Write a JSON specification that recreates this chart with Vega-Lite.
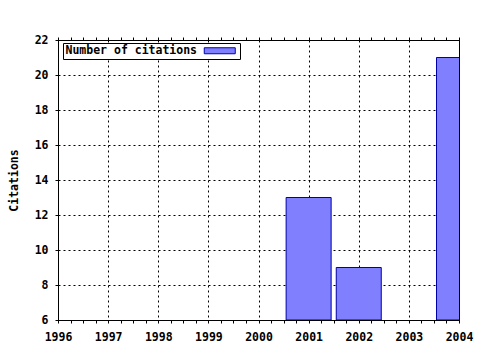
{
  "$schema": "https://vega.github.io/schema/vega-lite/v6.json",
  "width": 401,
  "height": 280,
  "autosize": "none",
  "padding": {"left": 58, "top": 40, "right": 21, "bottom": 30},
  "background": "white",
  "data": {"values": [
    {"year": 2001, "citations": 13},
    {"year": 2002, "citations": 9},
    {"year": 2004, "citations": 21}
  ]},
  "config": {
    "view": {"stroke": "black", "strokeWidth": 1},
    "font": "DejaVu Sans Mono",
    "axis": {
      "labelFont": "DejaVu Sans Mono",
      "labelFontWeight": "bold",
      "labelFontSize": 11.5,
      "labelColor": "black",
      "domainColor": "black",
      "tickColor": "black",
      "gridColor": "black",
      "gridDash": [2, 3],
      "gridOpacity": 1,
      "titleFont": "DejaVu Sans Mono",
      "titleFontWeight": "bold",
      "titleFontSize": 11.5,
      "titleColor": "black",
      "tickSize": 3
    },
    "legend": {
      "orient": "none",
      "legendX": 5,
      "legendY": 3,
      "padding": 2,
      "strokeColor": "black",
      "fillColor": "white",
      "labelFont": "DejaVu Sans Mono",
      "labelFontWeight": "bold",
      "labelFontSize": 11.5,
      "labelColor": "black",
      "symbolType": "M-3.1,-0.6L3.1,-0.6L3.1,0.6L-3.1,0.6Z",
      "symbolSize": 100,
      "symbolStrokeColor": "#0000aa",
      "symbolStrokeWidth": 1,
      "symbolFillColor": "#8080ff",
      "labelOffset": -160,
      "symbolOffset": 149
    }
  },
  "layer": [
    {
      "mark": {"type": "bar", "size": 45, "clip": true, "stroke": "#0000aa", "strokeWidth": 1},
      "encoding": {
        "x": {
          "field": "year",
          "type": "quantitative",
          "scale": {"domain": [1996, 2004], "nice": false, "zero": false, "padding": 0},
          "axis": {
            "title": null,
            "values": [1996, 1996.25, 1996.5, 1996.75, 1997, 1997.25, 1997.5, 1997.75, 1998, 1998.25, 1998.5, 1998.75, 1999, 1999.25, 1999.5, 1999.75, 2000, 2000.25, 2000.5, 2000.75, 2001, 2001.25, 2001.5, 2001.75, 2002, 2002.25, 2002.5, 2002.75, 2003, 2003.25, 2003.5, 2003.75, 2004],
            "labelExpr": "datum.value % 1 === 0 ? format(datum.value, 'd') : ''",
            "gridOpacity": {"condition": {"test": "datum.value % 1 !== 0", "value": 0}, "value": 1},
            "labelFlush": false,
            "labelOverlap": false,
            "labelPadding": 8
          }
        },
        "y": {
          "field": "citations",
          "type": "quantitative",
          "scale": {"domain": [6, 22], "nice": false, "zero": false, "padding": 0},
          "axis": {
            "values": [6, 8, 10, 12, 14, 16, 18, 20, 22],
            "title": "Citations",
            "titlePadding": 15,
            "labelPadding": 7
          }
        },
        "y2": {"datum": 6},
        "color": {
          "datum": "Number of citations",
          "type": "nominal",
          "scale": {"range": ["#8080ff"]},
          "legend": {"title": null}
        }
      }
    },
    {
      "mark": {"type": "point", "opacity": 0, "clip": true},
      "encoding": {
        "x": {
          "field": "year",
          "type": "quantitative",
          "axis": {
            "orient": "top",
            "title": null,
            "labels": false,
            "grid": false,
            "values": [1996, 1996.25, 1996.5, 1996.75, 1997, 1997.25, 1997.5, 1997.75, 1998, 1998.25, 1998.5, 1998.75, 1999, 1999.25, 1999.5, 1999.75, 2000, 2000.25, 2000.5, 2000.75, 2001, 2001.25, 2001.5, 2001.75, 2002, 2002.25, 2002.5, 2002.75, 2003, 2003.25, 2003.5, 2003.75, 2004]
          }
        }
      }
    }
  ],
  "resolve": {"axis": {"x": "independent"}}
}
